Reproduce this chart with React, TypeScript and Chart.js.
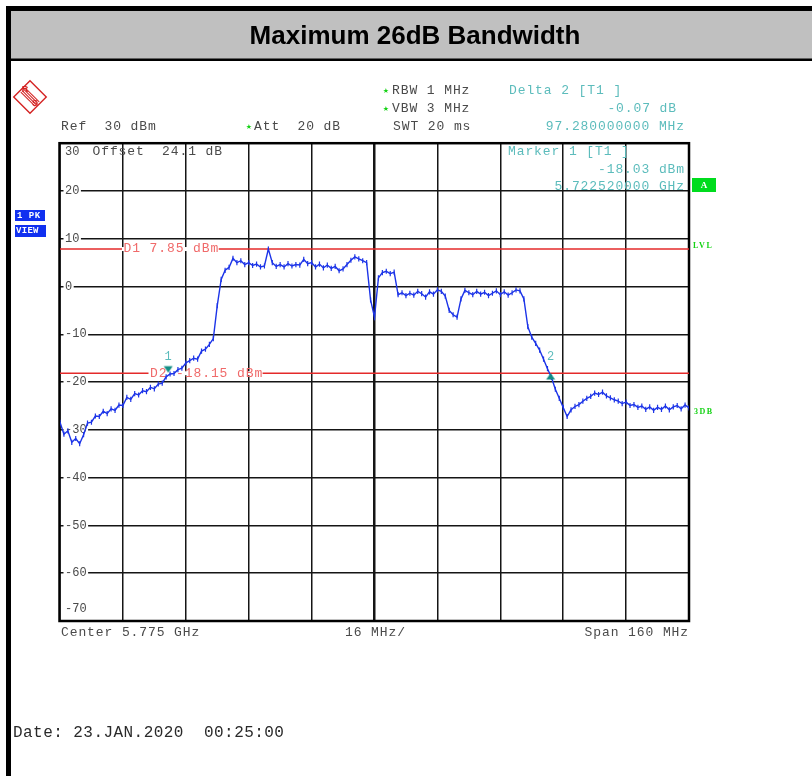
import React, { useEffect, useRef } from "react";
import { Chart, registerables } from "chart.js";

Chart.register(...registerables);

// ---------------- data ----------------
const TITLE = "Maximum 26dB Bandwidth";
// frequency axis: offset in MHz from 5.695 GHz (Center 5.775 GHz, Span 160 MHz)
const FREQ_MIN_MHZ = 0;
const FREQ_MAX_MHZ = 160;
const FREQ_DIV_MHZ = 16;
const TRACE_STEP_MHZ = 1;
// Peak trace (dBm), one value per MHz from 5.695 GHz to 5.855 GHz
const TRACE_DBM = [
  -28.4, -30.9, -30.2, -32.6, -31.8, -32.9, -31.0, -28.6, -28.4, -27.1,
  -27.2, -26.1, -26.6, -25.6, -25.9, -24.8, -24.9, -23.2, -23.6, -22.4,
  -22.7, -21.8, -22.0, -21.1, -21.4, -20.4, -20.2, -18.9, -18.3, -18.2,
  -17.4, -17.1, -16.0, -15.5, -15.0, -15.2, -13.5, -13.1, -12.1, -10.9,
  -4.0, 1.5, 3.4, 4.0, 5.9, 5.0, 5.4, 4.6, 5.0, 4.4,
  4.7, 4.1, 4.3, 7.85, 5.0, 4.2, 4.6, 4.1, 4.8, 4.3,
  4.6, 4.5, 5.7, 4.8, 5.0, 4.1, 4.7, 3.9, 4.5, 3.8,
  4.2, 3.3, 3.7, 4.6, 5.5, 6.2, 5.8, 5.4, 5.0, -2.8,
  -6.4, 1.8, 2.9, 3.2, 2.7, 3.0, -1.7, -1.3, -1.9, -1.4,
  -1.8, -1.0, -1.5, -2.2, -1.1, -1.6, -0.7, -1.0, -2.0, -5.0,
  -5.9, -6.4, -2.6, -0.8, -1.3, -1.7, -1.0, -1.6, -1.2, -1.9,
  -1.4, -0.9, -1.7, -1.1, -1.8, -1.3, -0.7, -0.9, -2.6, -8.4,
  -10.6, -11.9, -13.3, -15.2, -17.2, -19.0, -21.5, -23.4, -25.3, -27.2,
  -25.8, -25.1, -24.7, -24.0, -23.4, -23.0, -22.3, -22.6, -22.1, -22.9,
  -23.3, -23.7, -24.0, -24.5, -24.2, -24.9, -24.7, -25.3, -25.0, -25.7,
  -25.2, -25.9, -25.3, -25.7, -25.0, -25.8, -25.2, -24.9, -25.6, -24.8,
  -25.4,
];
const Y_MIN = -70;
const Y_MAX = 30;
const Y_STEP = 10;
const Y_TICK_VALUES = [30, 20, 10, 0, -10, -20, -30, -40, -50, -60, -70];
const Y_TICK_LABELS = ["30", "20", "10", "0", "-10", "-20", "-30", "-40", "-50", "-60", "-70"];
const D1_DBM = 7.85;
const D2_DBM = -18.15;
const MARKER_MHZ = [27.52, 124.8];
const MARKER_DBM = [-18.03, -18.1];
const MARKER_NAMES = ["1", "2"];

const HEADER_LEFT = ["Ref  30 dBm", "Att  20 dB"];
const HEADER_MID = ["RBW 1 MHz", "VBW 3 MHz", "SWT 20 ms"];
const HEADER_DELTA = ["Delta 2 [T1 ]", "-0.07 dB", "97.280000000 MHz"];
const MARKER_INFO = ["Marker 1 [T1 ]", "-18.03 dBm", "5.722520000 GHz"];
const OFFSET_TEXT = "Offset  24.1 dB";
const BOTTOM_TEXT = ["Center 5.775 GHz", "16 MHz/", "Span 160 MHz"];
const DATE_TEXT = "Date: 23.JAN.2020  00:25:00";
const D_LABELS = ["D1 7.85 dBm", "D2 -18.15 dBm"];

// ---------------- styles ----------------
const MONO = '"Liberation Mono", "Courier New", monospace';
const GRAY_TXT = "#4a4a4a";
const TEAL_TXT = "#5cbcbc";
const TEAL_MARK = "#138d84";
const GREEN = "#14d214";
const RED_LINE = "#e42a2a";
const RED_TXT = "#f06a6a";
const BLUE = "#1c34e8";
const GRID = "#151515";

function txt(ctx: CanvasRenderingContext2D, s: string, x: number, y: number, color: string, font: string, align: CanvasTextAlign = "left", spacing = 0) {
  ctx.save();
  ctx.font = font;
  (ctx as any).letterSpacing = spacing + "px";
  ctx.fillStyle = color;
  ctx.textAlign = align;
  ctx.textBaseline = "middle";
  ctx.fillText(s, x, y);
  ctx.restore();
}

function star(ctx: CanvasRenderingContext2D, x: number, y: number) {
  txt(ctx, "\u2605", x, y, GREEN, '7px "DejaVu Sans"', "center");
}

function makeMarker(down: boolean) {
  const c = document.createElement("canvas");
  c.width = 12;
  c.height = 16;
  const g = c.getContext("2d")!;
  g.fillStyle = TEAL_MARK;
  g.beginPath();
  if (down) {
    g.moveTo(1.5, 1.5);
    g.lineTo(10.5, 1.5);
    g.lineTo(6, 8);
  } else {
    g.moveTo(6, 8);
    g.lineTo(10.5, 14.5);
    g.lineTo(1.5, 14.5);
  }
  g.closePath();
  g.fill();
  return c;
}

const F13 = "13px " + MONO;
const SP = 0.9;

const decor = {
  id: "decor",
  beforeDraw(chart: any) {
    const ctx = chart.ctx as CanvasRenderingContext2D;
    ctx.save();
    ctx.fillStyle = "#ffffff";
    ctx.fillRect(0, 0, chart.width, chart.height);
    ctx.fillStyle = "#c0c0c0";
    ctx.fillRect(11, 11, chart.width - 11, 48);
    ctx.fillStyle = "#000000";
    ctx.fillRect(6, 6, chart.width - 6, 5);
    ctx.fillRect(6, 6, 5, chart.height - 6);
    ctx.fillRect(11, 58.5, chart.width - 11, 2.5);
    ctx.restore();
  },
  beforeDatasetsDraw(chart: any) {
    const ctx = chart.ctx as CanvasRenderingContext2D;
    const a = chart.chartArea;
    const ys = chart.scales.y;
    // frame
    ctx.save();
    ctx.strokeStyle = "#000";
    ctx.lineWidth = 2.5;
    ctx.strokeRect(a.left - 0.5, a.top, a.right - a.left + 0.5, a.bottom - a.top);
    ctx.restore();
    // y labels inside the plot
    ctx.save();
    ctx.font = "12px " + MONO;
    Y_TICK_VALUES.forEach((v, i) => {
      let y = ys.getPixelForValue(v);
      if (i === 0) y += 9;
      if (i === Y_TICK_VALUES.length - 1) y -= 12;
      const lab = Y_TICK_LABELS[i];
      const w = ctx.measureText(lab).width;
      ctx.fillStyle = "#fff";
      ctx.fillRect(a.left + 3.5, y - 5, w + 3, 10);
      ctx.fillStyle = GRAY_TXT;
      ctx.textBaseline = "middle";
      ctx.fillText(lab, a.left + 5, y);
    });
    ctx.restore();
    txt(ctx, OFFSET_TEXT, 92.5, a.top + 8.5, GRAY_TXT, F13, "left", SP);
    txt(ctx, MARKER_INFO[0], 508, a.top + 8.5, TEAL_TXT, F13, "left", SP);
    txt(ctx, MARKER_INFO[1], 685, a.top + 26.5, TEAL_TXT, F13, "right", SP);
    txt(ctx, MARKER_INFO[2], 685, a.top + 43.5, TEAL_TXT, F13, "right", SP);
  },
  afterDatasetDraw(chart: any, args: any) {
    const ctx = chart.ctx as CanvasRenderingContext2D;
    const ys = chart.scales.y;
    if (args.index === 2 || args.index === 3) {
      const isD1 = args.index === 2;
      const y = ys.getPixelForValue(isD1 ? D1_DBM : D2_DBM);
      const x = isD1 ? 123.5 : 150;
      const s = isD1 ? D_LABELS[0] : D_LABELS[1];
      ctx.save();
      ctx.font = F13;
      (ctx as any).letterSpacing = SP + "px";
      const w = ctx.measureText(s).width;
      ctx.fillStyle = "#fff";
      ctx.fillRect(x - 1.5, y - 2, w + 1, 4);
      ctx.restore();
      txt(ctx, s, x, y, RED_TXT, F13, "left", SP);
    }
  },
  afterDraw(chart: any) {
    const ctx = chart.ctx as CanvasRenderingContext2D;
    const xs = chart.scales.x;
    // logo
    ctx.save();
    ctx.translate(30, 97);
    ctx.rotate(Math.PI / 4);
    ctx.strokeStyle = "#d42222";
    ctx.lineWidth = 1.4;
    ctx.strokeRect(-11.5, -11.5, 23, 23);
    ctx.lineWidth = 1;
    for (const k of [-3, -1, 1, 3]) {
      ctx.beginPath();
      ctx.moveTo(-10, k);
      ctx.lineTo(10, k);
      ctx.stroke();
    }
    ctx.restore();
    txt(ctx, "R", 25, 90, "#d42222", 'bold 9px "Liberation Sans"', "center");
    txt(ctx, "S", 35, 104, "#d42222", 'bold 9px "Liberation Sans"', "center");

    // header
    star(ctx, 386, 91);
    txt(ctx, HEADER_MID[0], 392, 91, GRAY_TXT, F13, "left", SP);
    star(ctx, 386, 109);
    txt(ctx, HEADER_MID[1], 392, 109, GRAY_TXT, F13, "left", SP);
    txt(ctx, HEADER_MID[2], 393, 127, GRAY_TXT, F13, "left", SP);
    txt(ctx, HEADER_LEFT[0], 61, 127, GRAY_TXT, F13, "left", SP);
    star(ctx, 249, 127);
    txt(ctx, HEADER_LEFT[1], 254, 127, GRAY_TXT, F13, "left", SP);
    txt(ctx, HEADER_DELTA[0], 509, 91, TEAL_TXT, F13, "left", SP);
    txt(ctx, HEADER_DELTA[1], 677, 109, TEAL_TXT, F13, "right", SP);
    txt(ctx, HEADER_DELTA[2], 685, 127, TEAL_TXT, F13, "right", SP);

    // side boxes
    ctx.save();
    ctx.fillStyle = "#1030f0";
    ctx.fillRect(15, 210, 30, 11);
    ctx.fillRect(15, 225, 31, 12);
    ctx.beginPath();
    ctx.rect(15, 210, 30, 11);
    ctx.clip();
    txt(ctx, "1 PK", 17, 215.5, "#fff", 'bold 9px ' + MONO, "left", 0.5);
    ctx.restore();
    txt(ctx, "VIEW", 16, 231, "#fff", 'bold 9px ' + MONO, "left", 0.3);

    ctx.save();
    ctx.fillStyle = "#00dc1e";
    ctx.fillRect(692, 178, 24, 14);
    ctx.restore();
    txt(ctx, "A", 704, 185.5, "#fff", 'bold 9px "Liberation Serif"', "center");
    txt(ctx, "LVL", 693, 246, GREEN, 'bold 8px "Liberation Serif"', "left", 1.5);
    txt(ctx, "3DB", 694, 411.5, GREEN, 'bold 8px "Liberation Serif"', "left", 1.5);

    // marker numbers
    MARKER_MHZ.forEach((f, i) => {
      txt(ctx, MARKER_NAMES[i], xs.getPixelForValue(f), 356.5, TEAL_TXT, "12px " + MONO, "center");
    });

    // bottom
    txt(ctx, BOTTOM_TEXT[0], 61, 633, GRAY_TXT, F13, "left", SP);
    txt(ctx, BOTTOM_TEXT[1], 345, 633, GRAY_TXT, F13, "left", SP);
    txt(ctx, BOTTOM_TEXT[2], 689, 633, GRAY_TXT, F13, "right", SP);
    txt(ctx, DATE_TEXT, 13, 733, "#2a2a2a", "16px " + MONO, "left", 0.45);
  },
};

export default function App() {
  const ref = useRef<HTMLCanvasElement | null>(null);
  useEffect(() => {
    if (!ref.current) return;
    const tracePts = TRACE_DBM.map((v, i) => ({ x: FREQ_MIN_MHZ + i * TRACE_STEP_MHZ, y: v }));
    const m1 = makeMarker(true);
    const m2 = makeMarker(false);
    const chart = new Chart(ref.current, {
      type: "line",
      data: {
        datasets: [
          {
            label: "Markers",
            data: MARKER_MHZ.map((f, i) => ({ x: f, y: MARKER_DBM[i] })),
            showLine: false,
            pointStyle: [m1, m2] as any,
            pointRadius: 6,
            order: 0,
          },
          {
            label: "Trace 1 PK",
            data: tracePts,
            borderColor: BLUE,
            backgroundColor: BLUE,
            borderWidth: 1.4,
            pointStyle: "line",
            pointRotation: 90,
            pointRadius: 2.6,
            pointBorderWidth: 1.2,
            pointBorderColor: BLUE,
            tension: 0,
            order: 1,
          },
          {
            label: "D1",
            data: [{ x: FREQ_MIN_MHZ, y: D1_DBM }, { x: FREQ_MAX_MHZ, y: D1_DBM }],
            borderColor: RED_LINE,
            borderWidth: 1.5,
            pointRadius: 0,
            order: 3,
          },
          {
            label: "D2",
            data: [{ x: FREQ_MIN_MHZ, y: D2_DBM }, { x: FREQ_MAX_MHZ, y: D2_DBM }],
            borderColor: RED_LINE,
            borderWidth: 1.5,
            pointRadius: 0,
            order: 2,
          },
        ],
      },
      options: {
        animation: false,
        responsive: false,
        devicePixelRatio: 1,
        layout: { padding: { left: 18, right: 0, top: 0, bottom: 0 } },
        plugins: {
          legend: { display: false },
          tooltip: { enabled: false },
          title: {
            display: true,
            text: TITLE,
            color: "#000",
            font: { family: '"Liberation Sans", Arial, sans-serif', size: 26, weight: "bold", lineHeight: 1.2 },
            padding: { top: 21, bottom: 91 },
          },
        },
        scales: {
          x: {
            type: "linear",
            position: "bottom",
            min: FREQ_MIN_MHZ,
            max: FREQ_MAX_MHZ,
            afterFit: (s: any) => {
              s.height = 155;
            },
            ticks: { display: false, stepSize: FREQ_DIV_MHZ, maxTicksLimit: 30 },
            grid: {
              color: GRID,
              lineWidth: (c: any) => (c.index === 5 ? 2.5 : 1.5),
              drawTicks: false,
            },
            border: { display: false },
          },
          y: {
            type: "linear",
            position: "left",
            min: Y_MIN,
            max: Y_MAX,
            afterFit: (s: any) => {
              s.width = 42;
            },
            ticks: { display: false, stepSize: Y_STEP, maxTicksLimit: 30 },
            grid: { color: GRID, lineWidth: 1.5, drawTicks: false },
            border: { display: false },
          },
          y2: {
            type: "linear",
            position: "right",
            min: Y_MIN,
            max: Y_MAX,
            afterFit: (s: any) => {
              s.width = 123;
            },
            ticks: { display: false },
            grid: { display: false, drawTicks: false },
            border: { display: false },
          },
        },
      } as any,
      plugins: [decor as any],
    });
    return () => chart.destroy();
  }, []);
  return (
    <div style={{ position: "absolute", left: 0, top: 0, width: 812, height: 776 }}>
      <canvas ref={ref} width={812} height={776} style={{ display: "block" }} />
    </div>
  );
}
